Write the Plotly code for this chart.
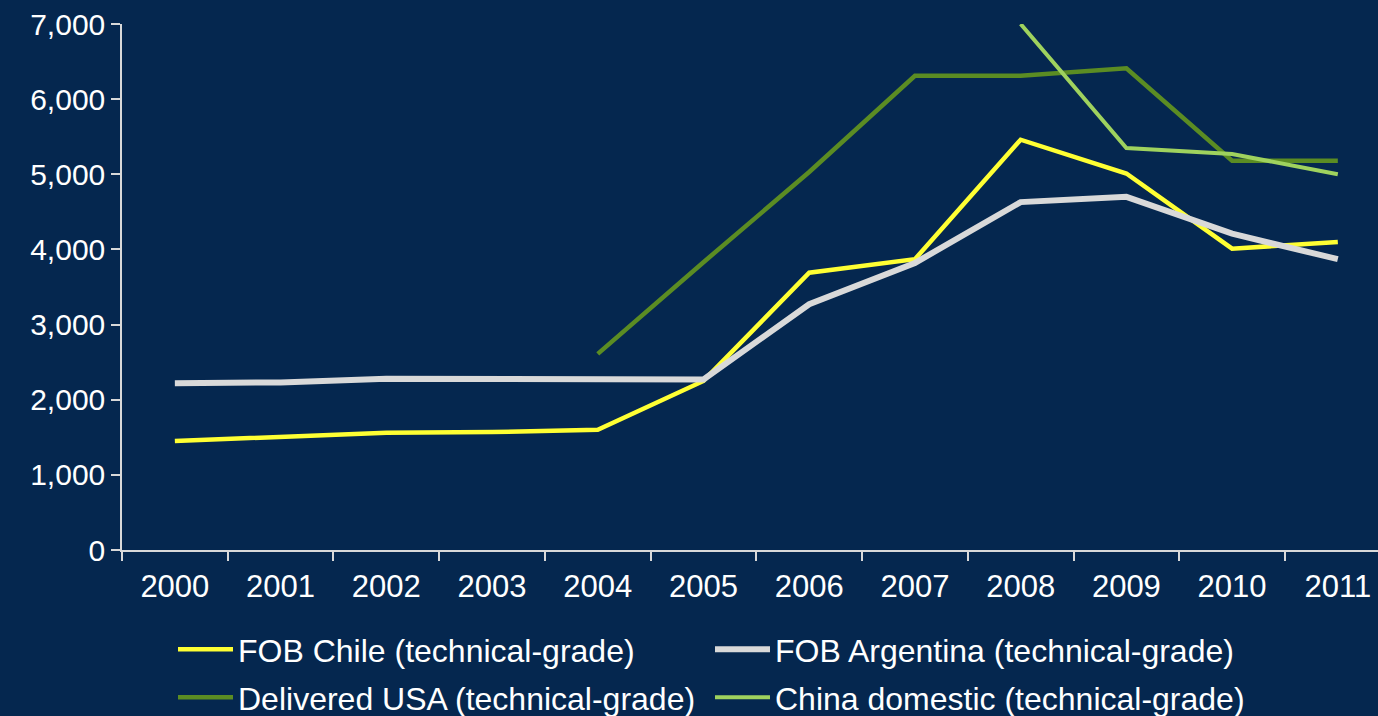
import plotly.graph_objects as go

# Price series (US$/t)
years = ["2000", "2001", "2002", "2003", "2004", "2005",
         "2006", "2007", "2008", "2009", "2010", "2011"]
fob_chile = [1450, 1500, 1560, 1570, 1600, 2250, 3690, 3870, 5460, 5010, 4010, 4100]
fob_argentina = [2220, 2230, 2280, 2280, 2280, 2270, 3270, 3820, 4630, 4700, 4210, 3870]
delivered_usa = [None, None, None, None, 2610, 3830, 5030, 6310, 6310, 6410, 5180, 5180]
china_domestic = [None, None, None, None, None, None, None, None, 7000, 5350, 5270, 5000]

BG = "#05274F"
FONT = "Liberation Sans, Arial, sans-serif"

# name, values, colour, width, legend row
series = [
    ("FOB Chile (technical-grade)", fob_chile, "#FFFF33", 4.5, "legend"),
    ("FOB Argentina (technical-grade)", fob_argentina, "#D9D9D9", 6, "legend"),
    ("Delivered USA (technical-grade)", delivered_usa, "#5B8C23", 4.5, "legend2"),
    ("China domestic (technical-grade)", china_domestic, "#9FD25E", 4, "legend2"),
]

fig = go.Figure()
for name, vals, color, width, leg in series:
    fig.add_trace(go.Scatter(
        x=years, y=vals, name=name, mode="lines",
        line=dict(color=color, width=width),
        connectgaps=False, legend=leg,
    ))

legend_style = dict(
    orientation="h",
    xref="container", yref="container",
    xanchor="left", yanchor="top",
    entrywidth=467, entrywidthmode="pixels",
    itemwidth=55,
    font=dict(size=32, color="white"),
    bgcolor="rgba(0,0,0,0)",
    traceorder="normal",
)

axis_style = dict(
    showgrid=False, zeroline=False,
    showline=True, linecolor="#D9D9D9", linewidth=1.5,
    ticks="outside", ticklen=9,
    tickcolor="#D9D9D9", tickwidth=1.5,
    tickfont=dict(size=31, color="white"),
)

fig.update_layout(
    width=1378, height=716,
    paper_bgcolor=BG, plot_bgcolor=BG,
    font=dict(family=FONT, color="white", size=31),
    margin=dict(l=122, r=0, t=24, b=166),
    showlegend=True,
    legend=dict(legend_style, x=173 / 1378, y=1 - 622 / 716),
    legend2=dict(legend_style, x=173 / 1378, y=1 - 670 / 716),
    xaxis=dict(axis_style, type="category", range=[-0.5, 11.38],
               tickson="boundaries", ticklabelstandoff=8),
    yaxis=dict(axis_style, range=[0, 7000], dtick=1000, tickformat=",d",
               tickfont=dict(size=30, color="white")),
)

fig.write_html("out.html", config={"displayModeBar": False},
               post_script="document.body.style.margin='0';")
